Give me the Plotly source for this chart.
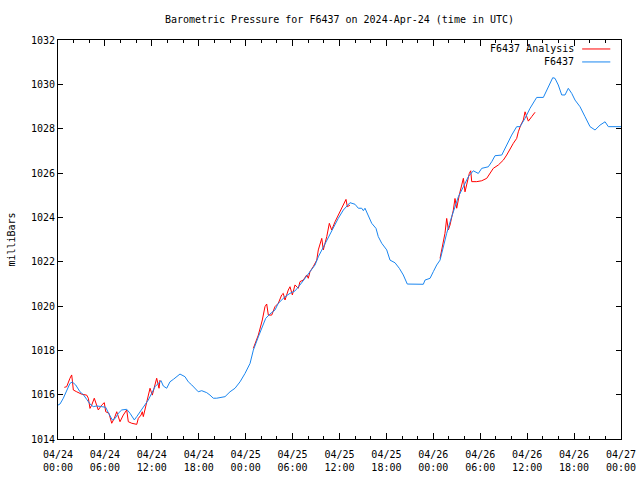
import pandas as pd
import plotly.graph_objects as go

# ---- data (hours after 2024-04-24 00:00 UTC, pressure in mb) ----
station_hours = [0.0, 0.26, 0.68, 1.11, 1.53, 1.83, 2.26, 2.81, 3.24, 3.67, 4.09, 4.51, 4.95, 5.59,
                 6.10, 6.43, 6.94, 7.29, 7.71, 8.15, 8.79, 9.21, 9.76, 10.07, 10.70, 11.55, 11.98,
                 12.41, 13.17, 13.47, 13.90, 14.32, 14.75, 15.60, 16.24, 16.66, 17.10, 17.52, 17.94,
                 18.38, 19.02, 19.44, 19.86, 20.30, 21.36, 22.00, 22.64, 23.28, 23.92, 24.56, 24.98,
                 25.62, 26.13, 26.56, 27.11, 27.75, 28.17, 29.03, 29.67, 30.31, 30.95, 31.59, 32.23,
                 32.87, 33.29, 33.93, 34.57, 35.21, 35.85, 36.49, 37.13, 37.34, 37.98, 38.41, 38.84,
                 39.05, 39.26, 39.68, 40.12, 40.67, 40.96, 41.40, 42.04, 42.46, 43.10, 43.65, 44.16,
                 44.67, 46.72, 46.94, 47.58, 48.00, 48.43, 48.86, 49.28, 49.71, 50.35, 50.77, 51.20,
                 51.84, 52.47, 53.11, 53.75, 54.19, 55.03, 55.47, 55.89, 56.75, 57.38, 58.02, 58.66,
                 59.09, 59.73, 60.37, 61.01, 61.22, 62.07, 62.50, 62.92, 63.27, 63.56, 63.98, 64.42,
                 64.84, 65.26, 65.70, 66.12, 66.76, 67.40, 68.04, 68.68, 69.32, 69.96, 70.38, 71.24,
                 72.00]
station_mb = [1015.53, 1015.58, 1015.84, 1016.21, 1016.51, 1016.57, 1016.44, 1016.13, 1016.00, 1015.79,
              1015.58, 1015.46, 1015.49, 1015.46, 1015.43, 1015.19, 1014.86, 1014.92, 1015.16, 1015.31,
              1015.34, 1015.16, 1014.86, 1015.01, 1015.31, 1015.76, 1016.06, 1016.36, 1016.63, 1016.39,
              1016.29, 1016.58, 1016.69, 1016.93, 1016.81, 1016.58, 1016.44, 1016.29, 1016.13, 1016.18,
              1016.09, 1015.98, 1015.84, 1015.84, 1015.91, 1016.13, 1016.29, 1016.58, 1016.96, 1017.41,
              1018.01, 1018.61, 1019.07, 1019.44, 1019.64, 1019.82, 1020.12, 1020.42, 1020.57, 1020.68,
              1020.95, 1021.25, 1021.55, 1021.85, 1022.22, 1022.67, 1023.12, 1023.58, 1023.96, 1024.33,
              1024.55, 1024.66, 1024.59, 1024.41, 1024.41, 1024.30, 1024.41, 1024.10, 1023.73, 1023.50,
              1023.13, 1022.83, 1022.53, 1022.07, 1021.95, 1021.70, 1021.40, 1020.99, 1020.98, 1021.17,
              1021.25, 1021.55, 1021.85, 1022.07, 1022.67, 1023.28, 1024.03, 1024.48, 1024.93, 1025.38,
              1025.83, 1026.10, 1025.98, 1026.21, 1026.28, 1026.51, 1026.78, 1026.81, 1027.26, 1027.71,
              1028.09, 1028.09, 1028.47, 1028.92, 1029.29, 1029.41, 1029.41, 1029.74, 1030.04, 1030.30,
              1030.27, 1029.97, 1029.52, 1029.52, 1029.82, 1029.59, 1029.29, 1028.99, 1028.54, 1028.09,
              1027.94, 1028.16, 1028.31, 1028.09, 1028.09, 1028.09]

analysis_hours = [0.81, 1.11, 1.53, 1.75, 1.83, 1.96, 2.39, 3.03, 3.67, 3.88, 4.09, 4.31, 4.64, 4.95,
                  5.15, 5.59, 5.92, 6.10, 6.52, 6.87, 7.20, 7.51, 7.93, 8.35, 8.79, 8.99, 9.43, 10.07,
                  10.27, 10.62, 10.78, 10.91, 11.34, 11.77, 12.06, 12.41, 12.62, 12.92, 13.04,
                  None,
                  24.98, 25.62, 26.13, 26.47, 26.69, 26.90, 27.33, 27.75, 28.17, 28.61, 28.81, 29.03,
                  29.45, 29.67, 29.97, 30.31, 30.73, 30.95, 31.37, 31.81, 32.01, 32.23, 32.65, 33.09,
                  33.29, 33.73, 33.93, 34.37, 34.70, 35.00, 35.43, 35.85, 36.28, 36.58, 36.83, 37.00,
                  37.34,
                  None,
                  48.86, 49.28, 49.49, 49.71, 49.92, 50.13, 50.56, 50.77, 50.99, 51.32, 51.63, 51.84,
                  52.05, 52.35, 52.60, 52.78, 52.91, 53.55, 54.19, 54.83, 55.25, 55.67, 56.31, 56.95,
                  57.38, 57.81, 58.23, 58.66, 58.87, 59.18, 59.51, 59.73, 59.94, 60.15, 60.58, 61.01]
analysis_mb = [1016.33, 1016.36, 1016.74, 1016.89, 1016.66, 1016.21, 1016.13, 1016.02, 1015.98, 1015.84,
               1015.38, 1015.53, 1015.84, 1015.46, 1015.31, 1015.53, 1015.64, 1015.23, 1015.16, 1014.71,
               1014.93, 1015.23, 1014.78, 1015.08, 1015.31, 1014.78, 1014.71, 1014.66, 1014.93, 1015.08,
               1015.23, 1015.01, 1015.61, 1016.29, 1015.98, 1016.51, 1016.74, 1016.29, 1016.66,
               None,
               1018.09, 1018.69, 1019.37, 1019.97, 1020.09, 1019.59, 1019.59, 1019.97, 1020.12, 1020.50,
               1020.57, 1020.27, 1020.72, 1020.87, 1020.50, 1020.95, 1020.80, 1021.10, 1021.17, 1021.40,
               1021.25, 1021.55, 1021.78, 1022.07, 1022.53, 1023.05, 1022.53, 1023.13, 1023.73, 1023.43,
               1023.80, 1024.10, 1024.41, 1024.63, 1024.81, 1024.48, 1024.55,
               None,
               1022.15, 1022.83, 1023.28, 1023.95, 1023.43, 1023.65, 1024.33, 1024.85, 1024.41, 1025.01,
               1025.46, 1025.76, 1025.15, 1025.61, 1025.98, 1026.10, 1025.61, 1025.61, 1025.65, 1025.76,
               1025.98, 1026.21, 1026.36, 1026.58, 1026.81, 1027.11, 1027.34, 1027.56, 1027.86, 1028.16,
               1028.39, 1028.76, 1028.54, 1028.34, 1028.54, 1028.74]

series_names = ["F6437 Analysis", "F6437"]
series_colors = ["#ff0000", "#1a86f0"]
title_text = "Barometric Pressure for F6437 on 2024-Apr-24 (time in UTC)"
y_title = "milliBars"

base = pd.Timestamp("2024-04-24 00:00")


def to_time(hours):
    return [None if h is None else base + pd.Timedelta(hours=h) for h in hours]


FONT = "DejaVu Sans Mono"

fig = go.Figure()
fig.add_trace(go.Scatter(x=to_time(analysis_hours), y=analysis_mb, mode="lines",
                         name=series_names[0], line=dict(color=series_colors[0], width=1),
                         connectgaps=False, showlegend=False))
fig.add_trace(go.Scatter(x=to_time(station_hours), y=station_mb, mode="lines",
                         name=series_names[1], line=dict(color=series_colors[1], width=1),
                         showlegend=False))

# gnuplot-style key: text right-aligned, line sample on the right
key_rows = [0.9775, 0.945]
for name, color, yk in zip(series_names, series_colors, key_rows):
    fig.add_annotation(xref="paper", yref="paper", x=0.920, y=yk, text=name,
                       showarrow=False, xanchor="right", yanchor="middle",
                       font=dict(family=FONT, size=10, color="black"))
    fig.add_shape(type="line", xref="paper", yref="paper", x0=0.931, x1=0.981,
                  y0=yk, y1=yk, line=dict(color=color, width=1))

fig.update_layout(
    width=640, height=480,
    margin=dict(l=58, r=19, t=40, b=41, autoexpand=False),
    paper_bgcolor="white", plot_bgcolor="white",
    font=dict(family=FONT, size=10, color="black"),
    title=dict(text=title_text, x=0.5, xref="paper", xanchor="center",
               y=1 - 19 / 480, yref="container", yanchor="middle", automargin=False,
               font=dict(family=FONT, size=10, color="black")),
    showlegend=False,
)
fig.update_xaxes(
    type="date", automargin=False,
    range=[base, base + pd.Timedelta(hours=72)],
    dtick=6 * 3600 * 1000, tick0=base,
    tickformat="%m/%d<br>%H:%M",
    ticks="inside", ticklen=6, tickcolor="black", tickwidth=1,
    ticklabelstandoff=6,
    minor=dict(dtick=2 * 3600 * 1000, ticks="inside", ticklen=3, tickcolor="black", tickwidth=1),
    showline=True, linecolor="black", linewidth=1, mirror="allticks",
    showgrid=False, zeroline=False,
    tickfont=dict(family=FONT, size=10, color="black"),
)
fig.update_yaxes(
    automargin=False,
    range=[1014, 1032], dtick=2, tick0=1014, tickformat="d",
    ticks="inside", ticklen=5, tickcolor="black", tickwidth=1,
    showline=True, linecolor="black", linewidth=1, mirror="allticks",
    showgrid=False, zeroline=False,
    tickfont=dict(family=FONT, size=10, color="black"),
    title=dict(text=y_title, standoff=13, font=dict(family=FONT, size=10, color="black")),
)

fig.write_html("out.html", config={"displayModeBar": False},
               post_script="document.body.style.margin='0';document.body.style.overflow='hidden';")
